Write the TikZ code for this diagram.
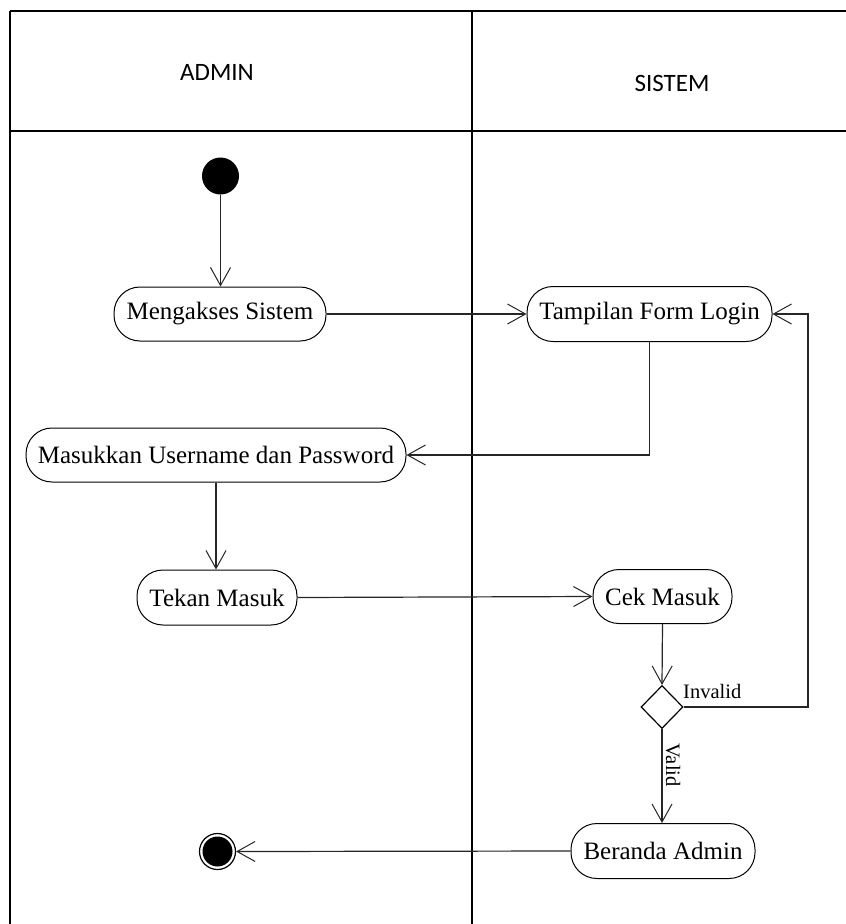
\documentclass[tikz,border=0pt]{standalone}
\usepackage{fontspec}
\setmainfont{Liberation Serif}
\newfontfamily\headfont{Carlito}
\usetikzlibrary{arrows.meta,shapes.geometric}
\begin{document}
\begin{tikzpicture}[x=1pt,y=-1pt,
  lane/.style={line width=1.8pt},
  act/.style={draw,line width=1pt,rounded corners=26pt,inner sep=0pt,
    font=\fontsize{25}{30}\selectfont},
  flow/.style={line width=1.2pt,draw=black!85,-{Straight Barb[length=18pt,width=20pt,line width=1pt]}},
  lbl/.style={inner sep=0pt,font=\fontsize{20.5}{24}\selectfont},
  head/.style={font=\headfont\fontsize{25}{30}\selectfont}]
\useasboundingbox (0,0) rectangle (846,924);
\clip (0,0) rectangle (846,924);

% swimlane frame
\draw[lane] (10,11) -- (860,11);
\draw[lane] (10,11) -- (10,940);
\draw[lane] (10,131) -- (860,131);
\draw[lane] (472,11) -- (472,940);
\node[head] (hadmin) at (217,72) {ADMIN};
\node[head] (hsistem) at (672,83) {SISTEM};

% start and end
\node[circle,fill=black,minimum size=37pt,inner sep=0pt] (start) at (220.5,176) {};
\node[circle,draw,line width=1.2pt,minimum size=36pt,inner sep=0pt] (end) at (217.5,851.5) {};
\fill (end.center) circle (15pt);

% activities
\node[act,minimum width=212pt,minimum height=54pt] (ms) at (220,314) {Mengakses Sistem};
\node[act,minimum width=245pt,minimum height=55pt] (tf) at (649.5,314) {Tampilan Form Login};
\node[act,minimum width=380pt,minimum height=54pt] (mu) at (216,455) {Masukkan Username dan Password};
\node[act,minimum width=160pt,minimum height=55pt] (tm) at (217,597.5) {Tekan Masuk};
\node[act,minimum width=139pt,minimum height=54pt] (cm) at (662.5,596.5) {Cek Masuk};
\node[act,minimum width=184pt,minimum height=55pt] (ba) at (663,851) {Beranda Admin};
\node[diamond,draw,line width=1.2pt,minimum width=42pt,minimum height=43pt,inner sep=0pt,aspect=1] (dd) at (662,707) {};

\coordinate (loop) at (808,707);

% flows
\draw[flow] (start) -- (start |- ms.north);
\draw[flow] (ms.east) -- (tf.west);
\draw[flow] (tf.south) |- (mu.east);
\draw[flow] (mu.south) -- (mu.south |- tm.north);
\draw[flow] (tm.east) -- (cm.west);
\draw[flow] (cm.south) -- (dd.north);
\draw[flow] (dd.east) -- (loop) |- (tf.east);
\draw[flow] (dd.south) -- (dd.south |- ba.north);
\draw[flow] (ba.west) -- (end.east);

\node[lbl,anchor=base west] (linvalid) at (683,698) {Invalid};
\node[lbl,rotate=-90] (lvalid) at (673,765) {Valid};
\end{tikzpicture}
\end{document}
